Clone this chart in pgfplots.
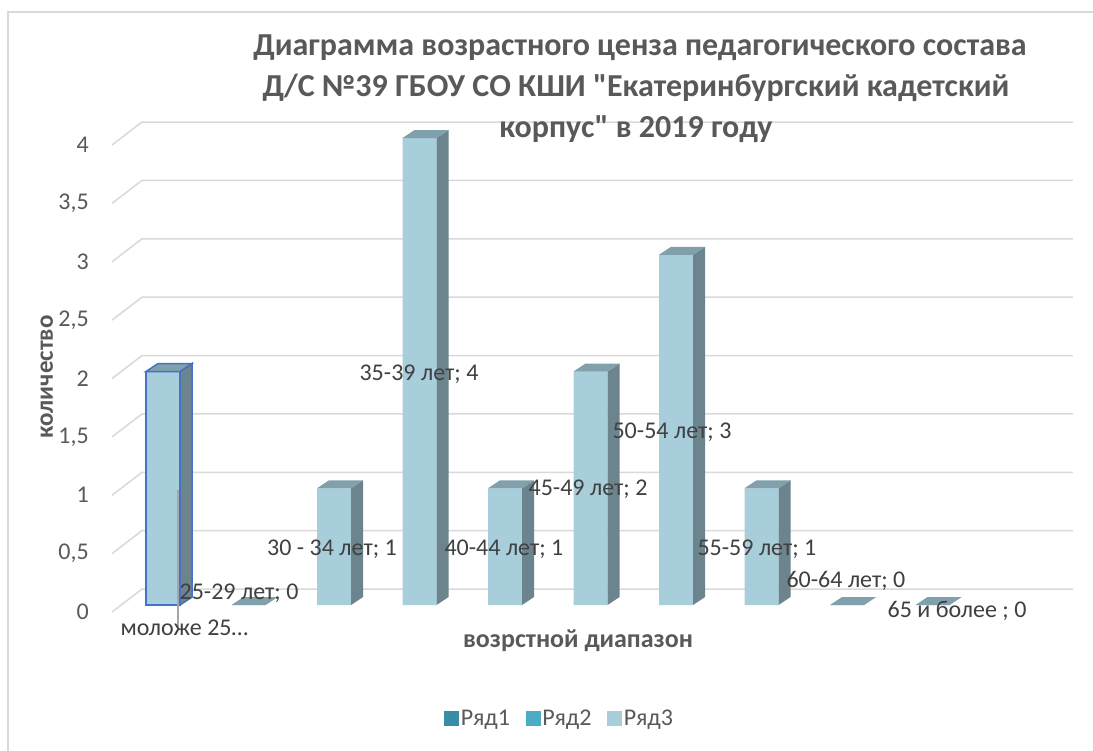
\documentclass[border=0pt]{standalone}
\usepackage{fontspec}
\setmainfont{Carlito}[Ligatures=TeXOff]
\usepackage{pgfplots}
\pgfplotsset{compat=1.18}
\protected\def\sc{;}
\definecolor{frontclr}{RGB}{168,206,220}
\definecolor{sideclr}{RGB}{108,132,141}
\definecolor{topclr}{RGB}{128,160,171}
\definecolor{selclr}{RGB}{68,114,196}
\definecolor{gridclr}{RGB}{217,217,217}
\definecolor{txtclr}{RGB}{89,89,89}
\definecolor{lblclr}{RGB}{64,64,64}
\definecolor{leg1}{RGB}{58,141,166}
\definecolor{leg2}{RGB}{74,172,197}
\definecolor{leg3}{RGB}{168,206,220}
\pgfdeclareplotmark{cap}{%
  \pgfmathsetmacro\hh{\val*116.75}%
  \pgfsetfillcolor{sideclr}%
  \pgfpathmoveto{\pgfpoint{17pt}{-\hh pt}}%
  \pgfpathlineto{\pgfpoint{29pt}{8pt-\hh pt}}%
  \pgfpathlineto{\pgfpoint{29pt}{8pt}}%
  \pgfpathlineto{\pgfpoint{17pt}{0pt}}%
  \pgfpathclose
  \pgfusepath{fill}%
  \pgfsetfillcolor{topclr}%
  \pgfpathmoveto{\pgfpoint{-17pt}{0pt}}%
  \pgfpathlineto{\pgfpoint{17pt}{0pt}}%
  \pgfpathlineto{\pgfpoint{29pt}{8pt}}%
  \pgfpathlineto{\pgfpoint{-5pt}{8pt}}%
  \pgfpathclose
  \pgfusepath{fill}%
}
\pgfdeclareplotmark{capsel}{%
  \pgfmathsetmacro\hh{\val*116.75}%
  \pgfsetstrokecolor{selclr}%
  \pgfsetlinewidth{1.5pt}%
  \pgfsetfillcolor{sideclr}%
  \pgfpathmoveto{\pgfpoint{17pt}{-\hh pt}}%
  \pgfpathlineto{\pgfpoint{29pt}{8pt-\hh pt}}%
  \pgfpathlineto{\pgfpoint{29pt}{8pt}}%
  \pgfpathlineto{\pgfpoint{17pt}{0pt}}%
  \pgfpathclose
  \pgfusepath{fill,stroke}%
  \pgfsetfillcolor{topclr}%
  \pgfpathmoveto{\pgfpoint{-17pt}{0pt}}%
  \pgfpathlineto{\pgfpoint{17pt}{0pt}}%
  \pgfpathlineto{\pgfpoint{29pt}{8pt}}%
  \pgfpathlineto{\pgfpoint{-5pt}{8pt}}%
  \pgfpathclose
  \pgfusepath{fill,stroke}%
}
\begin{document}
\begin{tikzpicture}
\useasboundingbox (0,0) rectangle (1093pt,751pt);
\fill[white] (0,0) rectangle (1093pt,751pt);
\draw[gridclr, line width=1.5pt] (8pt,0pt) -- (8pt,739pt) -- (1093pt,739pt);
\begin{axis}[
  at={(111.7pt,134.3pt)}, anchor=south west,
  x=85.5pt, y=116.75pt,
  xmin=-0.6, xmax=10.7, ymin=-0.1, ymax=4.2,
  clip=false,
  axis line style={draw=none},
  major tick length=0pt,
  xtick=\empty,
  ytick={0,0.5,1,1.5,2,2.5,3,3.5,4},
  yticklabel style={anchor=east, inner sep=0pt, xshift=-22.7pt, yshift=-7pt,
    font=\fontsize{24}{28}\selectfont, text=txtclr,
    /pgf/number format/use comma,
    /pgf/number format/assume math mode=true},
  legend columns=3,
  legend style={draw=none, fill=none, at={(axis cs:4.64,-0.968)}, anchor=center,
    font=\fontsize{24}{28}\selectfont, text=txtclr,
    /tikz/every even column/.append style={column sep=14pt}},
]
% gridlines (back wall and floor-side diagonals)
\pgfplotsinvokeforeach{0,0.5,1,1.5,2,2.5,3,3.5,4}{
  \draw[gridclr, line width=1.5pt] (axis cs:-0.5965,#1-0.06) -- (axis cs:-0.2456,#1+0.137) -- (axis cs:10.643,#1+0.137);
}
\addlegendimage{legend image code/.code={\fill[leg1] (0pt,-7pt) rectangle (14pt,7pt);}}
\addlegendentry{Ряд1}
\addlegendimage{legend image code/.code={\fill[leg2] (0pt,-7pt) rectangle (14pt,7pt);}}
\addlegendentry{Ряд2}
\addlegendimage{legend image code/.code={\fill[leg3] (0pt,-7pt) rectangle (14pt,7pt);}}
\addlegendentry{Ряд3}
% front faces
\addplot[ybar, bar width=34pt, fill=frontclr, draw=none, forget plot]
  coordinates {(0,2) (1,0) (2,1) (3,4) (4,1) (5,2) (6,3) (7,1) (8,0) (9,0)};
% side and top faces
\addplot[only marks, mark=cap, forget plot, visualization depends on={rawy \as \val}]
  coordinates {(1,0) (2,1) (3,4) (4,1) (5,2) (6,3) (7,1) (8,0) (9,0)};
% selected first bar
\addplot[ybar, bar width=34pt, fill=frontclr, draw=selclr, line width=1.5pt, forget plot]
  coordinates {(0,2)};
\addplot[only marks, mark=capsel, forget plot, visualization depends on={rawy \as \val}]
  coordinates {(0,2)};
% leader line
\draw[gray!70, line width=1.2pt] (axis cs:0.175,0.985) -- (axis cs:0.175,-0.214);
% data labels
\addplot[only marks, mark=none, forget plot, point meta=explicit symbolic,
  nodes near coords,
  every node near coord/.append style={anchor=base, inner sep=0pt, yshift=0pt,
    font=\fontsize{24}{28}\selectfont, text=lblclr}]
  coordinates {
(0.25,-0.257) [моложе 25…]
(0.889,0.051) [25-29 лет\sc{} 0]
(1.977,0.428) [30 - 34 лет\sc{} 1]
(2.994,1.927) [35-39 лет\sc{} 4]
(3.988,0.428) [40-44 лет\sc{} 1]
(4.971,0.934) [45-49 лет\sc{} 2]
(5.953,1.430) [50-54 лет\sc{} 3]
(6.947,0.428) [55-59 лет\sc{} 1]
(7.988,0.154) [60-64 лет\sc{} 0]
(9.287,-0.103) [65 и более \sc{} 0]
};
\end{axis}
% axis titles
\node[rotate=90, anchor=base, font=\bfseries\fontsize{25}{30}\selectfont, text=txtclr] at (53pt,374pt) {количество};
\node[anchor=base, font=\bfseries\fontsize{26}{30}\selectfont, text=txtclr] at (578pt,103pt) {возрстной диапазон};
% chart title
\begin{scope}[every node/.style={font=\bfseries\fontsize{32}{38}\selectfont, text=txtclr, inner sep=0pt, anchor=base}]
\node at (640pt,695pt) {Диаграмма возрастного ценза педагогического состава};
\node at (636pt,654pt) {Д/С №39 ГБОУ СО КШИ "Екатеринбургский кадетский};
\node at (636pt,613pt) {корпус" в 2019 году};
\end{scope}
\end{tikzpicture}
\end{document}
